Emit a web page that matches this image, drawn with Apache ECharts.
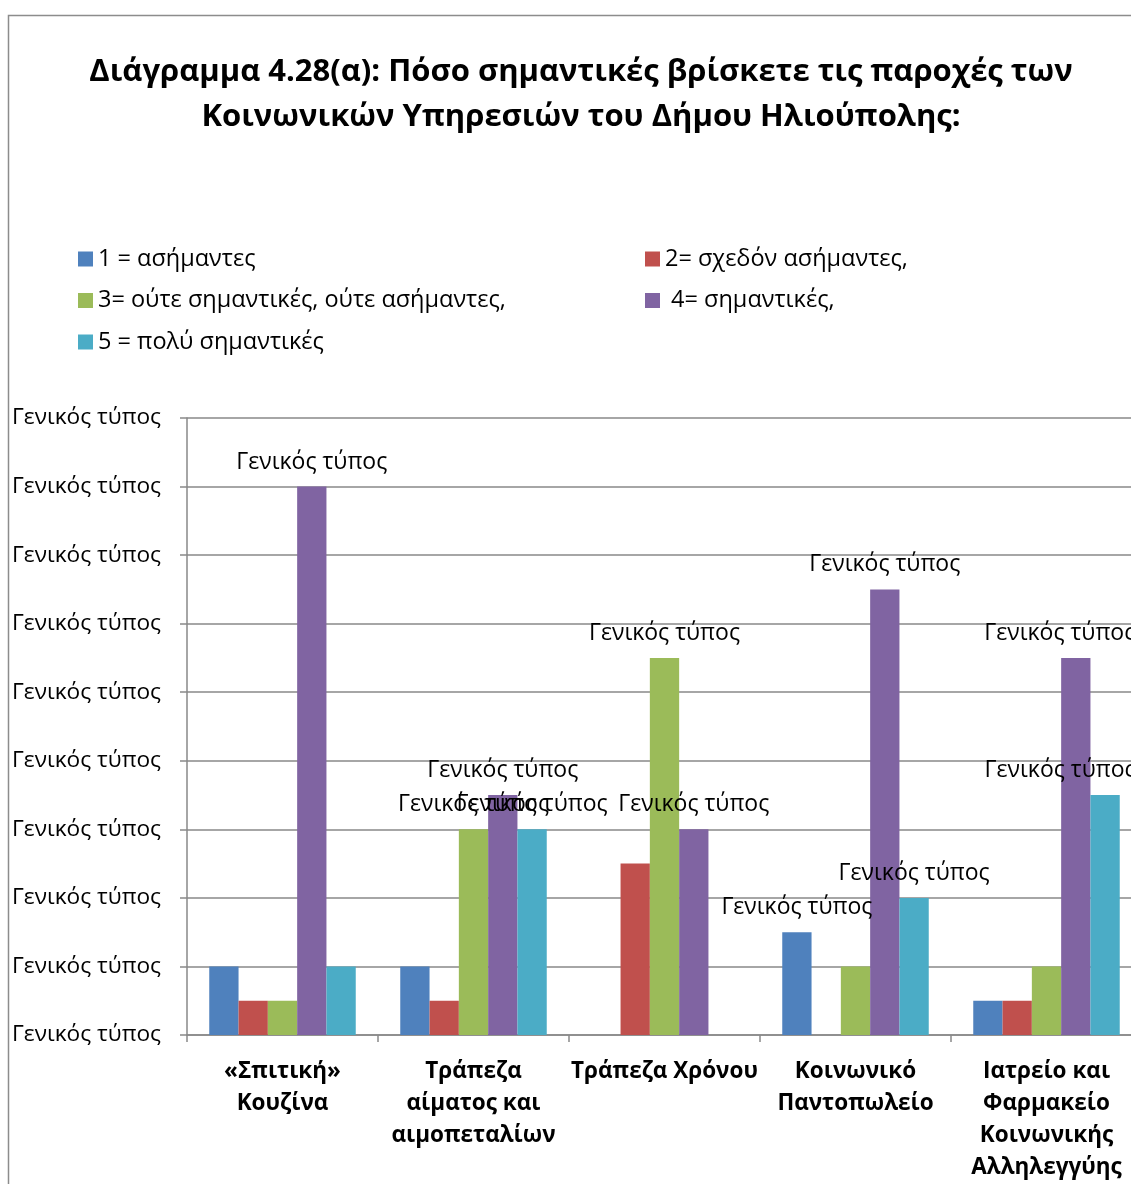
<!DOCTYPE html>
<html>
<head>
<meta charset="utf-8">
<title>Διάγραμμα 4.28(α)</title>
<script src="https://cdn.jsdelivr.net/npm/echarts@6/dist/echarts.min.js"></script>
<style>
  html, body { margin: 0; padding: 0; background: #fff; overflow: hidden; }
  /* το διάγραμμα συνεχίζει λίγο πέρα από τη δεξιά άκρη, όπως στο πρωτότυπο */
  #main { width: 1142px; height: 1184px; }
</style>
</head>
<body>
<div id="main"></div>
<script>
// κατηγορίες του άξονα Χ
const categories = [
  '«Σπιτική»\nΚουζίνα',
  'Τράπεζα\nαίματος και\nαιμοπεταλίων',
  'Τράπεζα Χρόνου',
  'Κοινωνικό\nΠαντοπωλείο',
  'Ιατρείο και\nΦαρμακείο\nΚοινωνικής\nΑλληλεγγύης'
];
const seriesNames = [
  '1 = ασήμαντες',
  '2= σχεδόν ασήμαντες,',
  '3= ούτε σημαντικές, ούτε ασήμαντες,',
  ' 4= σημαντικές,',
  '5 = πολύ σημαντικές'
];
// τιμές ανά σειρά (σε μονάδες γραμμών πλέγματος)
const values1 = [1, 1, 0, 1.5, 0.5];
const values2 = [0.5, 0.5, 2.5, 0, 0.5];
const values3 = [0.5, 3, 5.5, 1, 1];
const values4 = [8, 3.5, 3, 6.5, 5.5];
const values5 = [1, 3, 0, 2, 3.5];
// ποιες μπάρες έχουν ετικέτα
const labels1 = [0, 0, 0, 1, 0];
const labels2 = [0, 0, 0, 0, 0];
const labels3 = [0, 1, 1, 0, 0];
const labels4 = [1, 1, 1, 1, 1];
const labels5 = [0, 1, 0, 1, 1];
const labelText = 'Γενικός τύπος';
const yTicks = [0, 1, 2, 3, 4, 5, 6, 7, 8, 9];

const colors = ['#4F81BD', '#C0504D', '#9BBB59', '#8064A2', '#4BACC6'];
const allValues = [values1, values2, values3, values4, values5];
const allLabels = [labels1, labels2, labels3, labels4, labels5];
// οι ετικέτες της τελευταίας ομάδας μετακινούνται προς τα μέσα (όπως στο Excel)
const lastOffsets = [0, 0, 0, -16, -45];

const FONT = '"Open Sans", "Noto Sans", sans-serif';

let myChart = echarts.init(document.getElementById('main'));

let series = allValues.map(function (vals, s) {
  return {
    name: seriesNames[s],
    type: 'bar',
    barGap: '0%',
    barCategoryGap: '23.3%',
    itemStyle: { color: colors[s] },
    data: vals.map(function (v, i) {
      let item = { value: v };
      if (allLabels[s][i]) {
        item.label = {
          show: true,
          offset: [i === vals.length - 1 ? lastOffsets[s] : 0, 0]
        };
      }
      return item;
    }),
    label: {
      show: false,
      position: 'top',
      distance: 13,
      formatter: function () { return labelText; },
      color: '#000',
      fontFamily: FONT,
      fontSize: 23
    }
  };
});

let legendText = { color: '#000', fontFamily: FONT, fontSize: 23.5, lineHeight: 26 };

let option = {
  animation: false,
  color: colors,
  title: {
    text: 'Διάγραμμα 4.28(α): Πόσο σημαντικές βρίσκετε τις παροχές των\nΚοινωνικών Υπηρεσιών του Δήμου Ηλιούπολης:',
    left: 581,
    top: 50,
    padding: 0,
    textAlign: 'center',
    textStyle: {
      color: '#000',
      fontFamily: FONT,
      fontWeight: 'bold',
      fontSize: 31,
      lineHeight: 45
    }
  },
  legend: [
    {
      data: [seriesNames[0], seriesNames[2], seriesNames[4]],
      orient: 'vertical',
      left: 78,
      top: 246,
      padding: 0,
      itemWidth: 15,
      itemHeight: 15,
      itemGap: 15.5,
      icon: 'rect',
      textStyle: legendText
    },
    {
      data: [seriesNames[1], seriesNames[3]],
      orient: 'vertical',
      left: 645,
      top: 246,
      padding: 0,
      itemWidth: 15,
      itemHeight: 15,
      itemGap: 15.5,
      icon: 'rect',
      textStyle: legendText
    }
  ],
  grid: {
    left: 187,
    right: 0,
    top: 418,
    bottom: 149
  },
  xAxis: {
    type: 'category',
    data: categories,
    axisLine: { lineStyle: { color: '#898989', width: 1.5 } },
    axisTick: { show: true, length: 7, lineStyle: { color: '#898989', width: 1.5 } },
    axisLabel: {
      interval: 0,
      margin: 21,
      color: '#000',
      fontFamily: FONT,
      fontWeight: 'bold',
      fontSize: 22.5,
      lineHeight: 32
    }
  },
  yAxis: {
    type: 'value',
    min: yTicks[0],
    max: yTicks[yTicks.length - 1],
    interval: 1,
    axisLine: { show: true, lineStyle: { color: '#898989', width: 1.5 } },
    axisTick: { show: true, length: 7, lineStyle: { color: '#898989', width: 1.5 } },
    splitLine: { lineStyle: { color: '#898989', width: 1.5 } },
    axisLabel: {
      margin: 26,
      color: '#000',
      fontFamily: FONT,
      fontSize: 22.7,
      formatter: function () { return labelText; }
    }
  },
  graphic: [
    {
      type: 'rect',
      silent: true,
      shape: { x: 8.5, y: 15.5, width: 2000, height: 2000 },
      style: { fill: 'none', stroke: '#8c8c8c', lineWidth: 1.5 }
    }
  ],
  series: series
};

myChart.setOption(option);
</script>
</body>
</html>
